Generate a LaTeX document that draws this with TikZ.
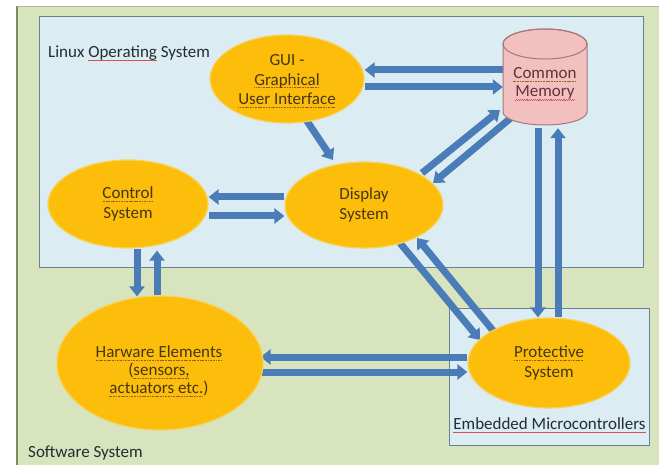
\documentclass[tikz,border=0pt]{standalone}
\usepackage{fontspec}
\setmainfont{Carlito}
\usetikzlibrary{arrows.meta,calc,shapes.geometric}
\definecolor{bggreen}{RGB}{216,228,189}
\definecolor{bgline}{RGB}{120,140,95}
\definecolor{boxblue}{RGB}{219,236,243}
\definecolor{boxline}{RGB}{105,130,145}
\definecolor{ellfill}{RGB}{252,190,10}
\definecolor{ellline}{RGB}{248,210,95}
\definecolor{arrblue}{RGB}{74,124,184}
\definecolor{cylfill}{RGB}{243,192,192}
\definecolor{cylline}{RGB}{165,120,120}
\definecolor{txtbrown}{RGB}{70,55,18}
\definecolor{txtred}{RGB}{100,50,50}
\definecolor{txtdark}{RGB}{35,45,52}
\definecolor{ulbrown}{RGB}{150,95,40}
\definecolor{ulred}{RGB}{215,80,80}
\newcommand\ulpattern[3]{\leavevmode\setbox0\hbox{#3}\rlap{\hbox to \wd0{\color{#1}\xleaders\hbox{#2}\hfill}}\box0\relax}
\newcommand\browndot[1]{\ulpattern{ulbrown}{\rule[-2.8pt]{1.1pt}{0.8pt}\kern0.5pt}{#1}}
\newcommand\redwave[1]{\ulpattern{ulred}{\rule[-3.7pt]{0.9pt}{0.6pt}\rule[-3.1pt]{0.9pt}{0.6pt}}{#1}}
\pgfdeclarelayer{back}
\pgfdeclarelayer{mid}
\pgfsetlayers{back,mid,main}
\begin{document}
\begin{tikzpicture}[x=1pt,y=-1pt,
  oval/.style={ellipse, fill=ellfill, draw=ellline, line width=1.2, inner sep=0,
    align=center, text=txtbrown, font=\fontsize{17}{20}\selectfont},
  ovaltext/.style={align=center, text=txtbrown, inner sep=0},
  frame/.style={draw=boxline, fill=boxblue, line width=1, inner sep=0},
  barrow/.style={draw=arrblue, line width=7, -{Triangle[width=15pt,length=10pt]}},
  lbl/.style={text=txtdark, font=\fontsize{17}{20}\selectfont, inner sep=0}
]
\useasboundingbox (0,0) rectangle (659,465);
\begin{pgfonlayer}{back}
  \fill[white] (0,0) rectangle (659,465);
  \fill[bggreen] (17,6) rectangle (659,465);
  \draw[bgline, line width=1.5] (17,465) -- (17,6);
  \draw[bggreen!80!black, line width=0.6] (17,6) -- (659,6);
  \node[frame, minimum width=604, minimum height=251] (linux) at (341,142.5) {};
  \node[frame, minimum width=200, minimum height=137] (emb) at (549,376.5) {};
\end{pgfonlayer}

\node[lbl, anchor=west] (linuxlbl) at (48,53) {Linux \redwave{Operating} System};
\node[lbl] (emblbl) at (549.5,425) {\redwave{Embedded Microcontrollers}};
\node[lbl, anchor=west] (swlbl) at (28,453) {Software System};

% cylinder
\path[fill=cylfill, draw=cylline, line width=1]
  (503,44) -- (503,112) arc[start angle=180, end angle=0, x radius=42, y radius=13]
  -- (587,44) arc[start angle=0, end angle=-180, x radius=42, y radius=15] -- cycle;
\draw[cylline, line width=1] (545,44) ellipse [x radius=42, y radius=15];
\node[inner sep=0, minimum width=84, minimum height=97] (cm) at (545,76.5) {};
\node[align=center, text=txtred, font=\fontsize{17}{17.5}\selectfont, inner sep=0] (cmtxt) at (545,84) {\browndot{Common}\\\redwave{Memory}};

\node[oval, minimum width=154, minimum height=88] (gui) at (287,79) {};
\node[ovaltext, font=\fontsize{17}{19.5}\selectfont] (guitxt) at (287,81) {GUI -\\\browndot{Graphical}\\\browndot{User Interface}};
\node[oval, minimum width=160, minimum height=88] (ctrl) at (128,204) {\browndot{Control}\\System};
\node[oval, minimum width=158, minimum height=86] (disp) at (364,205) {Display\\System};
\node[oval, minimum width=206, minimum height=134] (hw) at (160,363) {};
\node[ovaltext, font=\fontsize{17}{18}\selectfont] (hwtxt) at (159,371) {\browndot{Harware Elements}\\(\browndot{sensors,}\\\browndot{actuators etc.})};
\node[oval, minimum width=162, minimum height=90] (prot) at (549,363) {\browndot{Protective}\\System};

\begin{pgfonlayer}{mid}
\draw[barrow] ($(cm.west)+(0,-6.5)$) -- ($(gui.east)+(0,-9)$);
\draw[barrow] ($(gui.east)+(0,8)$) -- ($(cm.west)+(0,10.5)$);
\draw[barrow] ($(gui.center)+(18,39)$) -- ($(disp.center)+(-31,-45)$);
\draw[barrow] ($(disp.center)+(58,-32)$) -- ($(cm.center)+(-45,33.5)$);
\draw[barrow] ($(cm.center)+(-33,40.5)$) -- ($(disp.center)+(69,-22)$);
\draw[barrow] ($(disp.west)+(0,-8)$) -- ($(ctrl.east)+(0,-7)$);
\draw[barrow] ($(ctrl.east)+(0,12)$) -- ($(disp.west)+(0,11)$);
\draw[barrow] ($(ctrl.south)+(9,0)$) -- ($(hw.north)+(-23,1)$);
\draw[barrow] ($(hw.north)+(-3,0)$) -- ($(ctrl.south)+(29,2)$);
\draw[barrow] ($(disp.center)+(36,38)$) -- ($(prot.center)+(-69,-23)$);
\draw[barrow] ($(prot.center)+(-54,-30)$) -- ($(disp.center)+(53,33)$);
\draw[barrow] ($(cm.south)+(-7,3)$) -- ($(prot.north)+(-11,0)$);
\draw[barrow] ($(prot.north)+(9,0)$) -- ($(cm.south)+(13,3)$);
\draw[barrow] ($(prot.west)+(0,-6)$) -- ($(hw.east)+(-3,-6)$);
\draw[barrow] ($(hw.east)+(-5,9)$) -- ($(prot.west)+(0,9)$);
\end{pgfonlayer}
\end{tikzpicture}
\end{document}
